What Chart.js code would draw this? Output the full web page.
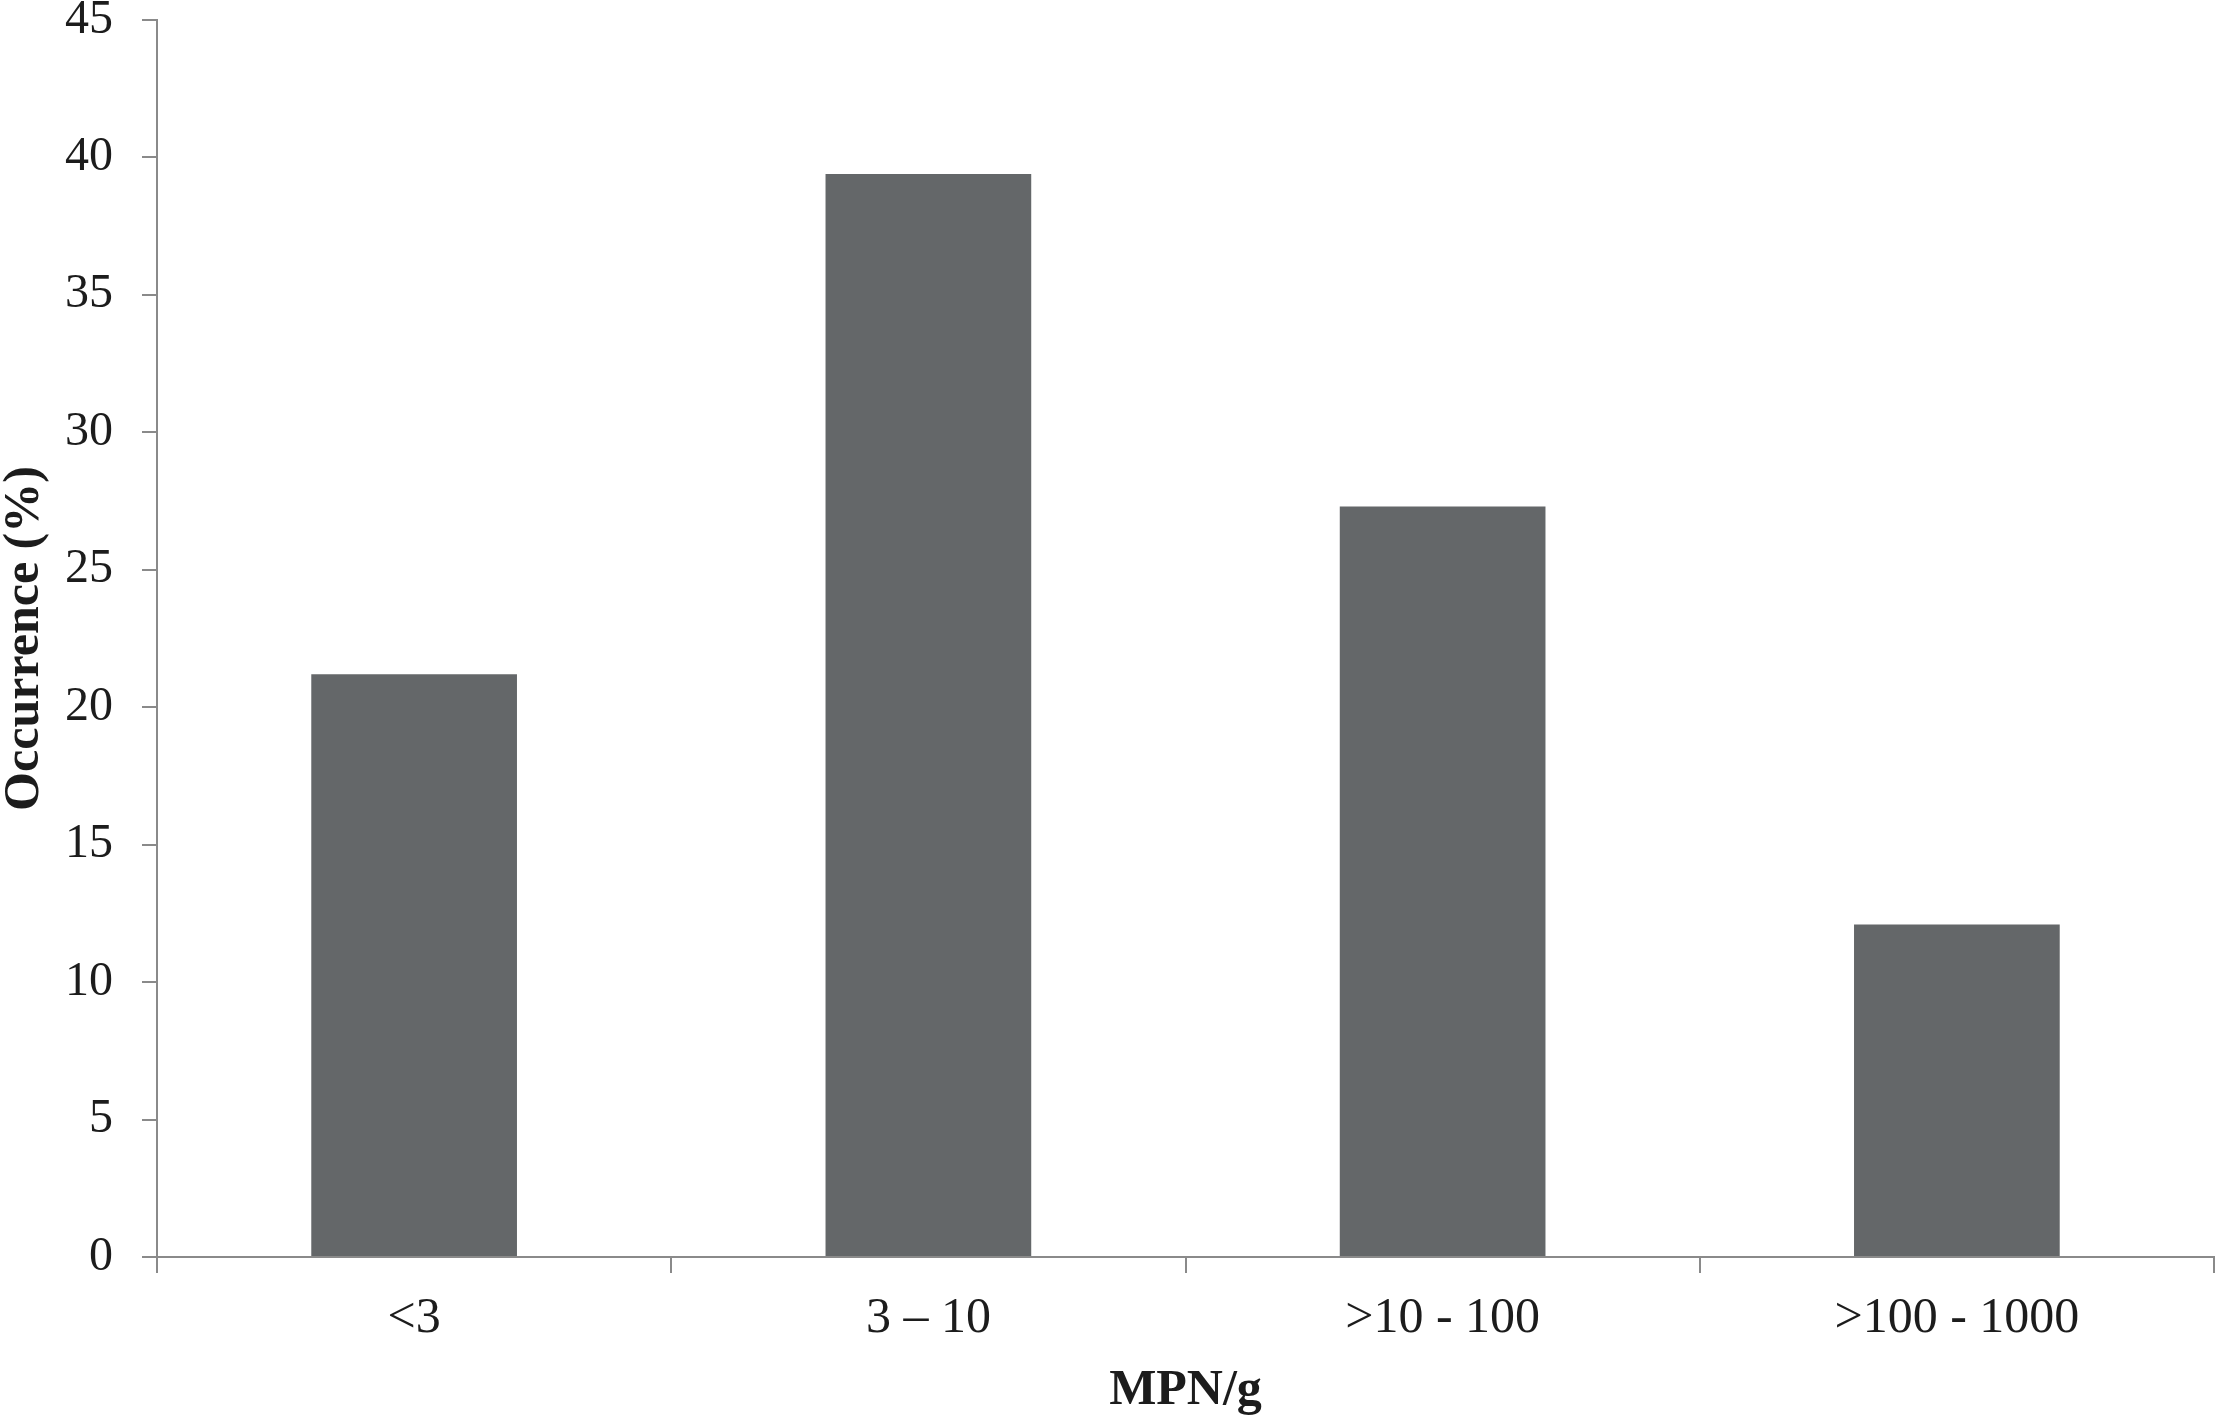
<!DOCTYPE html>
<html>
<head>
<meta charset="utf-8">
<script src="https://cdn.jsdelivr.net/npm/chart.js@4.4.1/dist/chart.umd.min.js"></script>
<style>
  html, body { margin: 0; padding: 0; background: #ffffff; }
  #wrap { width: 2217px; height: 1419px; position: relative; }
  canvas { display: block; }
</style>
</head>
<body>
<div id="wrap"><canvas id="c" width="2217" height="1419"></canvas></div>
<script>
const categories = ['<3', '3 \u2013 10', '>10 - 100', '>100 - 1000'];
const occurrence = [21.2, 39.4, 27.3, 12.1];
const yTicks = [0, 5, 10, 15, 20, 25, 30, 35, 40, 45];
const xTitle = 'MPN/g';
const yTitle = 'Occurrence (%)';

const axisColor = '#8a8a8a';
const textColor = '#1c1c1c';
const serif = "'Liberation Serif', 'Times New Roman', serif";

new Chart(document.getElementById('c'), {
  type: 'bar',
  data: {
    labels: categories,
    datasets: [{
      data: occurrence,
      backgroundColor: '#646769',
      borderWidth: 0,
      barPercentage: 0.4,
      categoryPercentage: 1.0
    }]
  },
  options: {
    responsive: false,
    animation: false,
    devicePixelRatio: 1,
    layout: { padding: { top: 20, right: 3, left: 0, bottom: 0 } },
    plugins: { legend: { display: false }, tooltip: { enabled: false } },
    scales: {
      x: {
        type: 'category',
        offset: true,
        grid: {
          display: true,
          offset: true,
          drawOnChartArea: false,
          drawTicks: true,
          tickLength: 16,
          color: axisColor,
          lineWidth: 2
        },
        border: { display: true, color: axisColor, width: 2 },
        ticks: {
          color: textColor,
          font: { family: serif, size: 50 },
          padding: 16,
          maxRotation: 0,
          autoSkip: false
        },
        title: {
          display: true,
          text: xTitle,
          color: textColor,
          font: { family: serif, size: 50, weight: 'bold', lineHeight: 1.0 },
          padding: { top: 0, bottom: 3 }
        },
        afterFit: (s) => { s.height = 162; s.paddingLeft = 0; s.paddingRight = 0; }
      },
      y: {
        min: 0,
        max: 45,
        afterBuildTicks: (s) => { s.ticks = yTicks.map(v => ({ value: v })); },
        grid: {
          display: true,
          drawOnChartArea: false,
          drawTicks: true,
          tickLength: 15,
          color: axisColor,
          lineWidth: 2
        },
        border: { display: true, color: axisColor, width: 2 },
        ticks: {
          color: textColor,
          font: { family: serif, size: 48 },
          padding: 29
        },
        title: {
          display: true,
          text: yTitle,
          color: textColor,
          font: { family: serif, size: 50, weight: 'bold', lineHeight: 1.0 },
          padding: { top: 0, bottom: 0 }
        },
        afterFit: (s) => { s.width = 157; s.paddingTop = 0; s.paddingBottom = 0; }
      }
    }
  }
});
</script>
</body>
</html>
